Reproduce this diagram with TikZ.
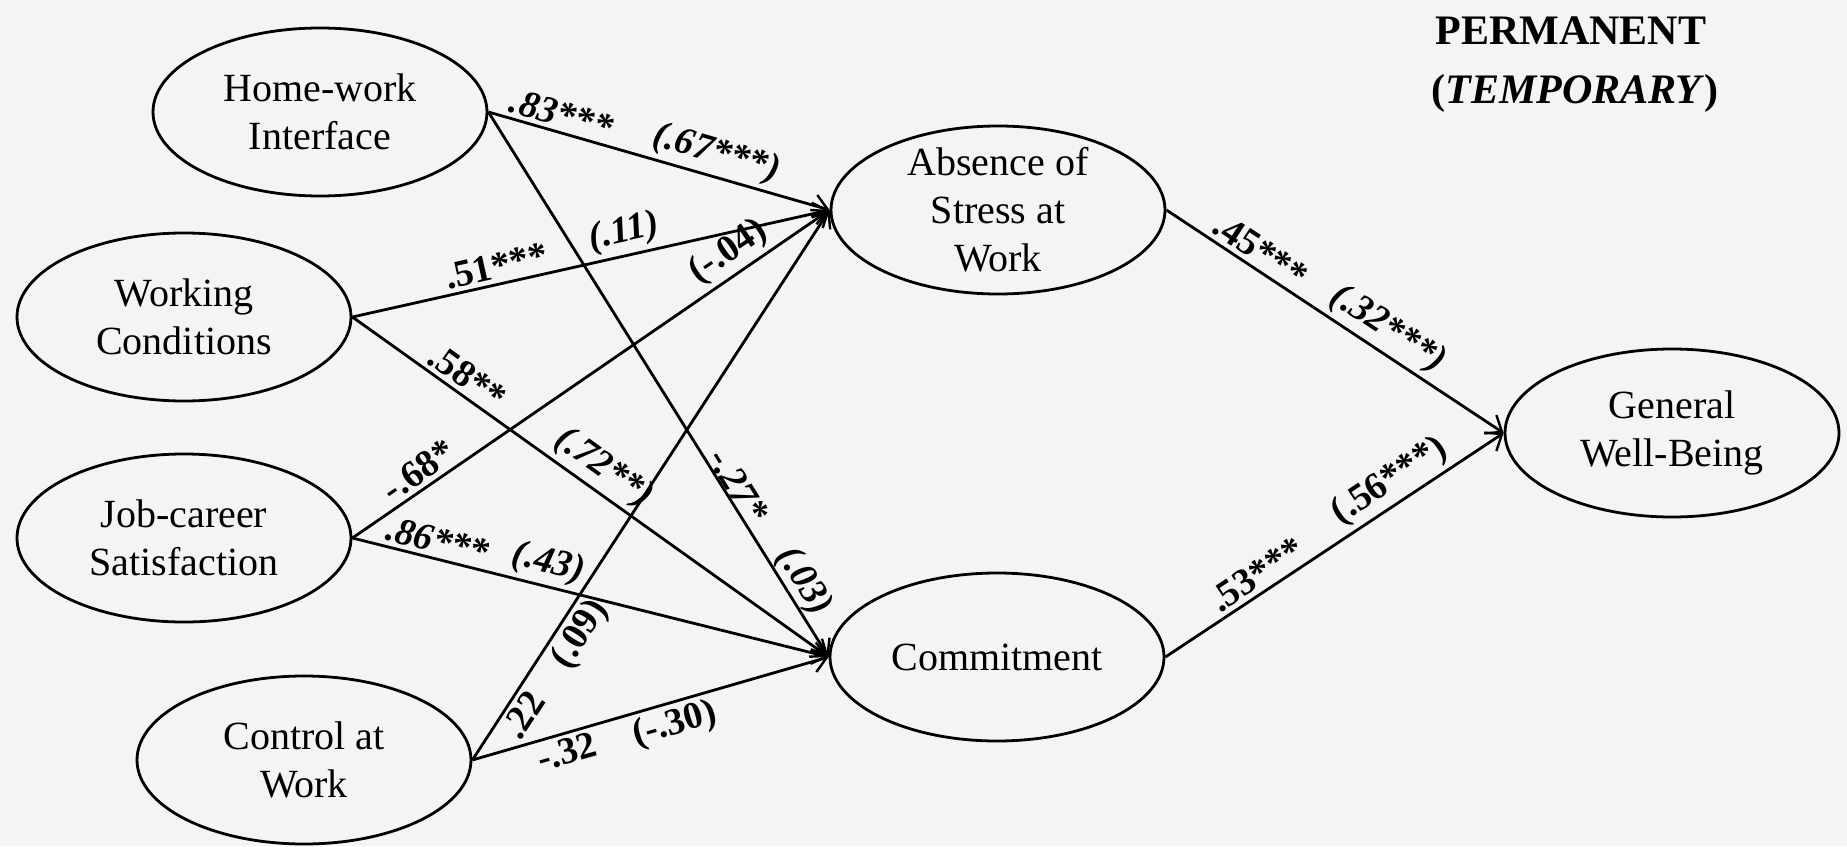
\documentclass[tikz,border=0pt]{standalone}
\usepackage{fontspec}
\setmainfont{Liberation Serif}
\usetikzlibrary{shapes.geometric,arrows.meta}
\definecolor{bgc}{RGB}{244,244,242}
\tikzset{
  ell/.style={draw, line width=1.4pt, ellipse, minimum width=167pt, minimum height=84pt,
    inner sep=0pt, align=center, font=\fontsize{20}{24}\selectfont},
  arr/.style={line width=1.4pt, -{Straight Barb[length=7pt,width=11pt,line width=1.2pt]}},
  lbl/.style={sloped, inner sep=2pt, font=\bfseries\fontsize{19}{22}\selectfont},
  ttl/.style={font=\bfseries\fontsize{21}{24}\selectfont}
}
\begin{document}
\begin{tikzpicture}[x=0.5pt,y=-0.5pt]
\fill[bgc] (0,0) rectangle (1847,846);
\useasboundingbox (0,0) rectangle (1847,846);

\node[ell] (hw)  at (320,112) {Home-work\\Interface};
\node[ell] (wc)  at (184,317) {Working\\Conditions};
\node[ell] (jc)  at (184,538) {Job-career\\Satisfaction};
\node[ell] (cw)  at (304,760) {Control at\\Work};
\node[ell, inner ysep=-4pt] (ab) at (998,210) {Absence of\\Stress at\\Work};
\node[ell] (cm)  at (997,657) {Commitment};
\node[ell] (wb)  at (1672,433) {General\\Well-Being};

\node[ttl] (perm) at (1571,31) {PERMANENT};
\node[ttl] (temp) at (1575,93) {(\textit{TEMPORARY})};

\draw[arr] (hw.east) -- node[lbl, pos=0.20, above] {\textit{.83***}}
                        node[lbl, pos=0.65, above] {\textit{(.67***)}} (ab.west);
\draw[arr] (hw.east) -- node[lbl, pos=0.70, above, inner sep=0pt] {\textit{-.27*}}
                        node[lbl, pos=0.88, above, inner sep=0pt] {\textit{(.03)}} (cm.west);
\draw[arr] (wc.east) -- node[lbl, pos=0.31, above] {.51***}
                        node[lbl, pos=0.58, above] {\textit{(.11)}} (ab.west);
\draw[arr] (wc.east) -- node[lbl, pos=0.22, above] {.58**}
                        node[lbl, pos=0.50, above] {\textit{(.72**)}} (cm.west);
\draw[arr] (jc.east) -- node[lbl, pos=0.16, above] {-.68*}
                        node[lbl, pos=0.815, above] {(-.04)} (ab.west);
\draw[arr] (jc.east) -- node[lbl, pos=0.17, above] {\textit{.86***}}
                        node[lbl, pos=0.40, above] {\textit{(.43)}} (cm.west);
\draw[arr] (cw.east) -- node[lbl, pos=0.10, below] {.22}
                        node[lbl, pos=0.25, below] {(.09)} (ab.west);
\draw[arr] (cw.east) -- node[lbl, pos=0.25, below] {-.32}
                        node[lbl, pos=0.55, below] {(-.30)} (cm.west);
\draw[arr] (ab.east) -- node[lbl, pos=0.25, above] {.45***}
                        node[lbl, pos=0.62, above] {\textit{(.32***)}} (wb.west);
\draw[arr] (cm.east) -- node[lbl, pos=0.30, above] {.53***}
                        node[lbl, pos=0.70, above] {(.56***)} (wb.west);
\end{tikzpicture}
\end{document}
